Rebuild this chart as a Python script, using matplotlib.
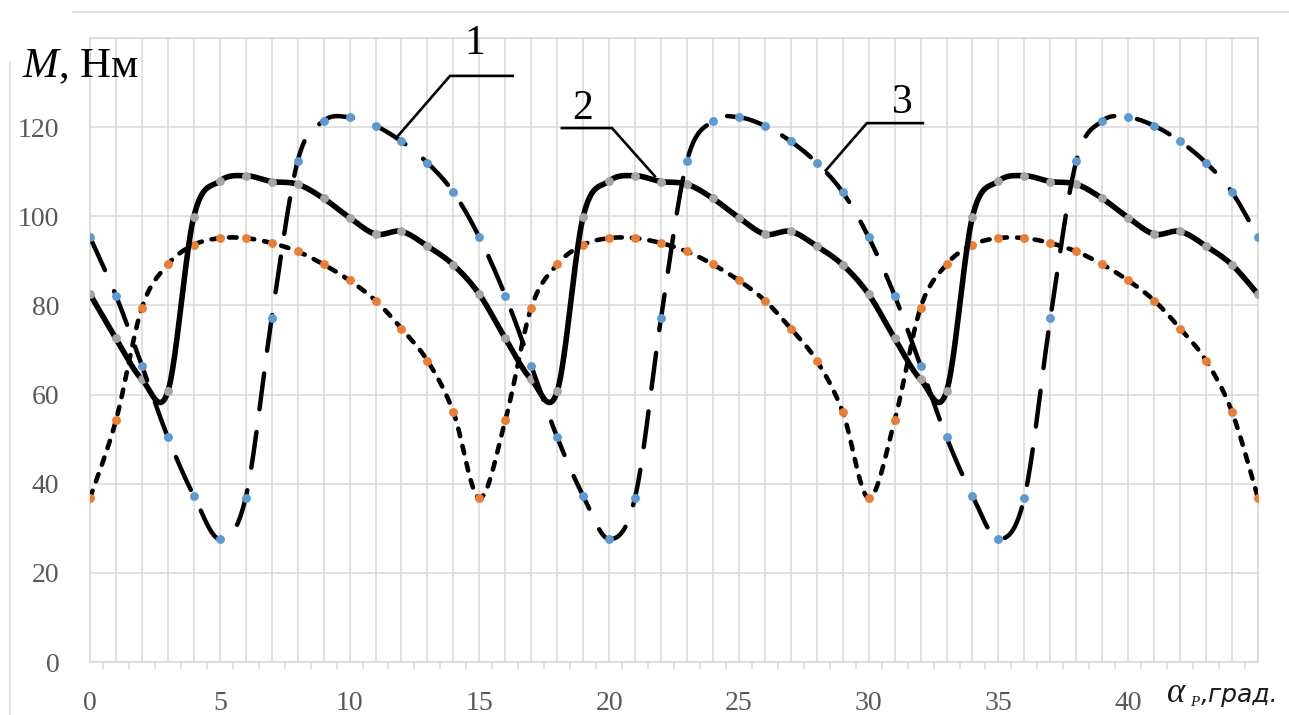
import numpy as np
import matplotlib
matplotlib.use("Agg")
import matplotlib.pyplot as plt
from matplotlib.lines import Line2D

plt.rcParams['lines.scale_dashes'] = False
plt.rcParams['mathtext.fontset'] = 'custom'
plt.rcParams['mathtext.rm'] = 'Liberation Serif'
plt.rcParams['mathtext.it'] = 'Liberation Serif:italic'

# rotor angle, degrees
angle = list(range(46))

# torque curves, N*m
torque_1 = [95.3, 82.2, 66.5, 50.4, 37.3, 27.6, 36.9, 77.1, 112.4, 121.4, 122.2, 120.3, 116.8, 112.0, 105.4,
            95.3, 82.2, 66.5, 50.4, 37.3, 27.6, 36.9, 77.1, 112.4, 121.4, 122.2, 120.3, 116.8, 112.0, 105.4,
            95.3, 82.2, 66.5, 50.4, 37.3, 27.6, 36.9, 77.1, 112.4, 121.4, 122.2, 120.3, 116.8, 112.0, 105.4,
            95.3]
torque_2 = [82.5, 72.6, 63.4, 60.7, 99.9, 107.9, 109.1, 107.8, 107.2, 104.0, 99.7, 96.0, 96.6, 93.3, 89.1,
            82.5, 72.6, 63.4, 60.7, 99.9, 107.9, 109.1, 107.8, 107.2, 104.0, 99.7, 96.0, 96.6, 93.3, 89.1,
            82.5, 72.6, 63.4, 60.7, 99.9, 107.9, 109.1, 107.8, 107.2, 104.0, 99.7, 96.0, 96.6, 93.3, 89.1,
            82.5]
torque_3 = [36.8, 54.2, 79.5, 89.2, 93.6, 95.1, 95.1, 94.0, 92.1, 89.2, 85.6, 81.1, 74.8, 67.6, 56.1,
            36.8, 54.2, 79.5, 89.2, 93.6, 95.1, 95.1, 94.0, 92.1, 89.2, 85.6, 81.1, 74.8, 67.6, 56.1,
            36.8, 54.2, 79.5, 89.2, 93.6, 95.1, 95.1, 94.0, 92.1, 89.2, 85.6, 81.1, 74.8, 67.6, 56.1,
            36.8]

x_tick_values = [0, 5, 10, 15, 20, 25, 30, 35, 40]
y_tick_values = [0, 20, 40, 60, 80, 100, 120]

BLUE = '#5B9BD5'
ORANGE = '#ED7D31'
GRAY = '#A5A5A5'
GRID = '#D9D9D9'
TICK_TXT = '#595959'


def smooth(x, y, n=24):
    """Bezier smoothing through every point (Catmull-Rom style tangents)."""
    p = np.column_stack([np.asarray(x, float), np.asarray(y, float)])
    ext = np.vstack([p[0], p, p[-1]])
    out = [p[0]]
    t = np.linspace(0, 1, n)[1:, None]
    for i in range(len(p) - 1):
        p0, p1, p2, p3 = ext[i], ext[i + 1], ext[i + 2], ext[i + 3]
        c1 = p1 + (p2 - p0) / 6.0
        c2 = p2 - (p3 - p1) / 6.0
        seg = ((1 - t) ** 3) * p1 + 3 * ((1 - t) ** 2) * t * c1 + 3 * (1 - t) * t ** 2 * c2 + t ** 3 * p2
        out.extend(seg)
    out = np.array(out)
    return out[:, 0], out[:, 1]


W, H, DPI = 1289, 715, 100
fig = plt.figure(figsize=(W / DPI, H / DPI), dpi=DPI)
fig.patch.set_facecolor('white')


def fx(px):
    return px / W


def fy(py):
    return 1 - py / H


ax = fig.add_axes([fx(90), fy(662), fx(1258) - fx(90), fy(38) - fy(662)])
ax.set_xlim(0, 45)
ax.set_ylim(0, 140)

# grid: vertical line at every degree, horizontal every 20
ax.set_xticks(range(46))
ax.set_xticklabels([str(v) if v in x_tick_values else '' for v in range(46)])
ax.set_xticks([v + 0.5 for v in range(45)] + [45], minor=True)
ax.set_yticks(y_tick_values + [140])
ax.set_yticklabels([str(v) for v in y_tick_values] + [''])
ax.grid(True, which='major', color=GRID, lw=1.1, zorder=0)
ax.set_axisbelow(True)
for s in ax.spines.values():
    s.set_color(GRID)
    s.set_linewidth(1.1)
ax.tick_params(axis='both', which='major', length=0, labelsize=20, labelcolor=TICK_TXT)
ax.tick_params(axis='x', which='major', pad=21)
ax.tick_params(axis='y', which='major', pad=22)
ax.tick_params(axis='x', which='minor', length=5, width=1.1, color=GRID, direction='out')
for lab in ax.get_xticklabels() + ax.get_yticklabels():
    lab.set_fontfamily('Liberation Serif')

MS = 6.4

# curve 3: short dashes, orange markers
xs, ys = smooth(angle, torque_3)
l3, = ax.plot(xs, ys, color='black', lw=3.3, dashes=(5.5, 7.2), zorder=3)
l3.set_dash_capstyle('round')
ax.plot(angle, torque_3, ls='none', marker='o', ms=MS, mfc=ORANGE, mec='none', zorder=3.1)

# curve 2: solid, gray markers
xs, ys = smooth(angle, torque_2)
ax.plot(xs, ys, color='black', lw=4.0, solid_capstyle='round', zorder=4)
ax.plot(angle, torque_2, ls='none', marker='o', ms=MS, mfc=GRAY, mec='none', zorder=4.1)

# curve 1: long dashes, blue markers
xs, ys = smooth(angle, torque_1)
l1, = ax.plot(xs, ys, color='black', lw=3.2, dashes=(26, 16.5), zorder=5)
l1.set_dash_capstyle('round')
ax.plot(angle, torque_1, ls='none', marker='o', ms=MS, mfc=BLUE, mec='none', zorder=5.1)

# curve number callouts
callouts = [
    ('1', (14.83, 138.6), [(16.29, 131.5), (13.87, 131.5), (11.86, 118.0)]),
    ('2', (18.99, 124.1), [(18.18, 119.8), (20.11, 119.8), (21.76, 109.0)]),
    ('3', (31.28, 125.5), [(32.09, 120.9), (29.93, 120.9), (28.35, 110.3)]),
]
for text, (tx, ty), path in callouts:
    px_, py_ = zip(*path)
    ax.plot(px_, py_, color='black', lw=1.9, clip_on=False, zorder=6)
    ax.text(tx, ty, text, fontsize=30, family='Liberation Serif', ha='center', va='center',
            color='black', zorder=6, clip_on=False)

# axis captions
fig.text(fx(22), fy(77), r'$M$, Нм', fontsize=31, family='Liberation Serif',
         ha='left', va='baseline', color='black')
fig.text(fx(1167), fy(702), 'α', fontsize=25, family='Liberation Serif', style='italic',
         ha='left', va='baseline', color='#1a1a1a')
fig.text(fx(1190), fy(706), 'P', fontsize=11, family='Liberation Serif', style='italic',
         ha='left', va='baseline', color='#1a1a1a')
fig.text(fx(1201), fy(702), ',град.', fontsize=18, family='DejaVu Sans', style='italic',
         ha='left', va='baseline', color='#1a1a1a')

# chart frame fragments
fig.add_artist(Line2D([fx(73), fx(1289)], [fy(12), fy(12)], color=GRID, lw=1.1))
fig.add_artist(Line2D([fx(10), fx(10)], [fy(63), fy(715)], color=GRID, lw=1.1))

fig.savefig('out.png', dpi=DPI, facecolor='white')
